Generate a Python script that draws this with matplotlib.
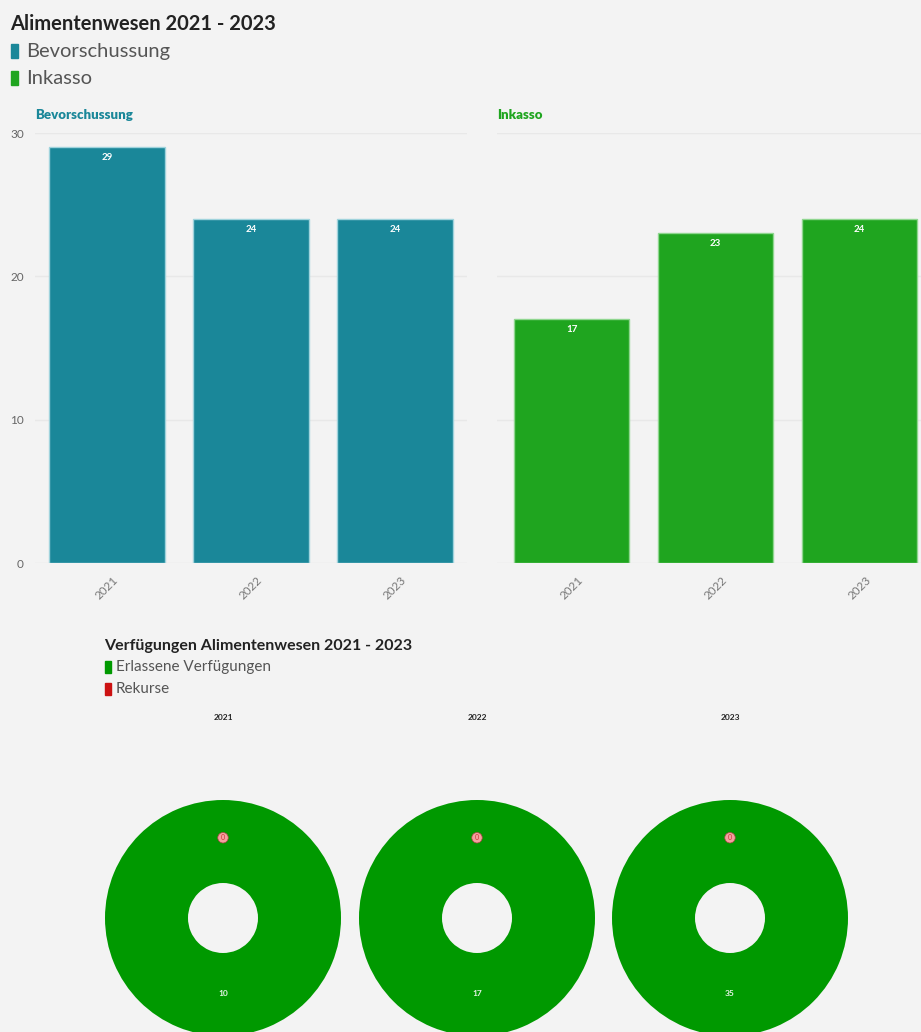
import matplotlib.pyplot as plt

plt.rcParams['font.family'] = ['Lato', 'DejaVu Sans']

years = ['2021', '2022', '2023']
bevorschussung = [29, 24, 24]
inkasso = [17, 23, 24]
verfuegungen = [10, 17, 35]
rekurse = [0, 0, 0]

bg = '#f3f3f3'
teal = '#1a8799'
green_bar = '#1fa51f'
green_pie = '#009900'
red = '#cc1111'

fig = plt.figure(figsize=(9.21, 10.32), dpi=100, facecolor=bg)
W, H = 921, 1032


def box(x0, y0, x1, y1):
    return [x0 / W, 1 - y1 / H, (x1 - x0) / W, (y1 - y0) / H]


# headline and legend of the bar charts
fig.text(10 / W, 1 - 24 / H, 'Alimentenwesen 2021 - 2023', fontsize=14.5,
         fontweight='bold', color='#222222', va='center')
for i, (name, col) in enumerate([('Bevorschussung', teal), ('Inkasso', green_bar)]):
    y = 51 + i * 27
    fig.patches.append(plt.Rectangle((11 / W, 1 - (y + 7) / H), 7 / W, 14 / H,
                                     transform=fig.transFigure, color=col))
    fig.text(26 / W, 1 - y / H, name, fontsize=14.5, color='#555555', va='center')

panels = [(box(35, 133, 467, 563), bevorschussung, teal, '#9fd3dc', 'Bevorschussung', (-0.5, 2.5), True),
          (box(497, 133, 921, 563), inkasso, green_bar, '#8fd68f', 'Inkasso', (-0.52, 2.43), False)]
for rect, vals, col, edge, title, xlim, show_y in panels:
    ax = fig.add_axes(rect, facecolor=bg)
    x = range(len(years))
    bars = ax.bar(x, vals, width=0.8, color=col, edgecolor=edge, linewidth=1, zorder=3)
    for b, v in zip(bars, vals):
        ax.text(b.get_x() + b.get_width() / 2, v - 0.4, str(v), ha='center', va='top',
                fontsize=7, fontweight='bold', color='white', zorder=4)
    ax.set_ylim(0, 30)
    ax.set_xlim(*xlim)
    ax.set_yticks([0, 10, 20, 30])
    ax.grid(axis='y', color='#e8e8e8', linewidth=1, zorder=0)
    ax.set_xticks(list(x))
    ax.set_xticklabels(years, rotation=45, fontsize=8.5, color='#777777')
    ax.tick_params(axis='both', length=0, pad=8)
    ax.tick_params(axis='y', labelsize=8.5, labelcolor='#666666')
    if not show_y:
        ax.set_yticklabels([])
    for s in ax.spines.values():
        s.set_visible(False)
    ax.set_title(title, loc='left', fontsize=9.5, fontweight='heavy', color=col, pad=10)

# donut charts
fig.text(104 / W, 1 - 646 / H, 'Verfügungen Alimentenwesen 2021 - 2023', fontsize=11.5,
         fontweight='bold', color='#222222', va='center')
for i, (name, col) in enumerate([('Erlassene Verfügungen', green_pie), ('Rekurse', red)]):
    y = 667 + i * 22
    fig.patches.append(plt.Rectangle((105 / W, 1 - (y + 6) / H), 6 / W, 12 / H,
                                     transform=fig.transFigure, color=col))
    fig.text(116 / W, 1 - y / H, name, fontsize=11, color='#555555', va='center')

R = 118
for i, cx in enumerate([223, 477, 730]):
    cy = 918
    fig.text(cx / W, 1 - 718 / H, years[i], fontsize=6, fontweight='bold',
             color='#222222', ha='center', va='center')
    ax = fig.add_axes(box(cx - R, cy - R, cx + R, cy + R))
    ax.set_aspect('equal')
    ax.pie([verfuegungen[i], rekurse[i]], colors=[green_pie, red], startangle=90,
           counterclock=False, radius=1,
           wedgeprops=dict(width=1 - 35 / R, edgecolor='none'))
    ax.set_xlim(-1, 1)
    ax.set_ylim(-1, 1)
    ax.text(0, -0.64, str(verfuegungen[i]), ha='center', va='center', fontsize=6,
            fontweight='bold', color='#e6f5e6')
    ax.text(0, 0.68, str(rekurse[i]), ha='center', va='center', fontsize=5,
            color='#cc3333',
            bbox=dict(boxstyle='circle,pad=0.25', fc='#f4a0a0', ec='#aa4444', lw=0.5))

fig.savefig('out.png', dpi=100, facecolor=bg)
